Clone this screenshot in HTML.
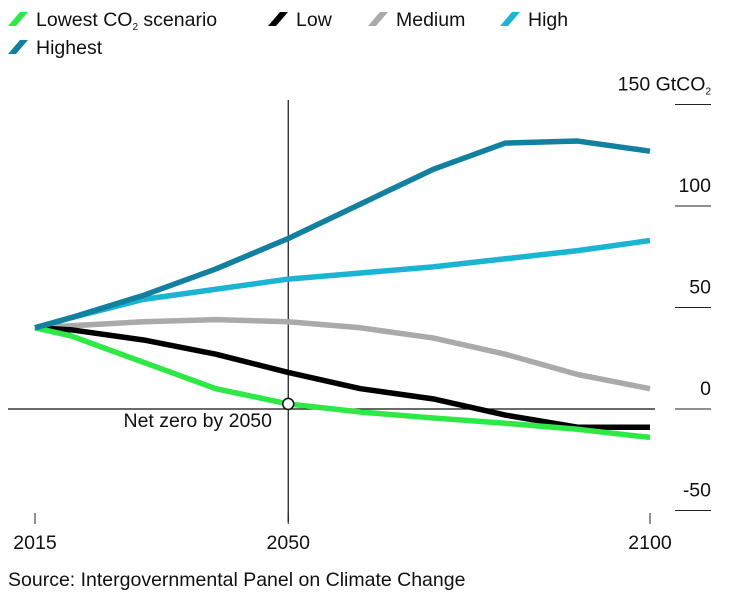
<!DOCTYPE html>
<html><head><meta charset="utf-8"><style>
body{margin:0;background:#fff;font-family:"Liberation Sans",Arial,sans-serif;}
svg{display:block}
text{font-family:"Liberation Sans",Arial,sans-serif;fill:#111}
</style></head><body>
<svg id="chart" width="729" height="595" viewBox="0 0 729 595">
<g id="legend"></g>
<g id="axes"></g>
<g id="series"></g>
<text x="8" y="586" font-size="19.5">Source: Intergovernmental Panel on Climate Change</text>
</svg>
<script>
const years=[2015,2020,2030,2040,2050,2060,2070,2080,2090,2100];
const highest=[40,45,56,69,84,101,118,131,132,127];
const high=[40,45,54,59,64,67,70,74,78,83];
const medium=[40,41,43,44,43,40,35,27,17,10];
const low=[40,39,34,27,18,10,5,-3,-9,-9];
const lowest=[40,36,23,10,2.5,-1.5,-4.4,-7,-10,-14];
const yTicks=[150,100,50,0,-50];
const xTicks=[2015,2050,2100];
const seriesNames=["Lowest CO2 scenario","Low","Medium","High","Highest"];
const colors=["#2ee846","#000000","#aaaaaa","#1bb5d3","#12809f"];

const NS="http://www.w3.org/2000/svg";
const X=y=>35+(y-2015)*(615/85);
const Y=v=>409-v*2.03;
function mk(tag,attrs,parent){const e=document.createElementNS(NS,tag);for(const k in attrs)e.setAttribute(k,attrs[k]);parent.appendChild(e);return e;}
const axes=document.getElementById('axes'),ser=document.getElementById('series'),leg=document.getElementById('legend');

yTicks.forEach(t=>{
  const l=mk('line',{x1:675,x2:711,y1:Y(t),y2:Y(t),stroke:'#222','stroke-width':1},axes);
  
  
  const tx=mk('text',{x:711,y:Y(t)-14,'text-anchor':'end','font-size':19.5},axes);
  tx.textContent=t===150?'150 GtCO':String(t);
  if(t===150){const s=mk('tspan',{'font-size':10,dy:4},tx);s.textContent='2';}
  
  
});
xTicks.forEach(t=>{
  const l=mk('line',{x1:X(t),x2:X(t),y1:513,y2:524,stroke:'#222','stroke-width':1},axes);
  
  
  const tx=mk('text',{x:X(t),y:549,'text-anchor':'middle','font-size':19.5},axes);
  tx.textContent=String(t);
  
  
});
const zl=mk('line',{x1:8,x2:655,y1:Y(0),y2:Y(0),stroke:'#111','stroke-width':1.2},axes);


const vl=mk('line',{x1:X(2050),x2:X(2050),y1:100,y2:522,stroke:'#111','stroke-width':1.2},axes);


const nz=mk('text',{x:272,y:427,'text-anchor':'end','font-size':19.5},axes);
nz.textContent='Net zero by 2050';



const data=[lowest,low,medium,high,highest];
const order=[2,1,0,3,4];
order.forEach(i=>{
  const p=mk('polyline',{points:years.map((y,j)=>X(y)+','+Y(data[i][j])).join(' '),fill:'none',stroke:colors[i],'stroke-width':5.5,'stroke-linejoin':'round'},ser);
  
  
});
const c=mk('circle',{cx:X(2050),cy:Y(2.5),r:5.5,fill:'#fff',stroke:'#111','stroke-width':1.5},ser);



const legPos=[[8,20],[268,20],[368,20],[500,20],[8,48]];
seriesNames.forEach((n,i)=>{
  const [x,y]=legPos[i];
  const g=mk('g',{},leg);
  
  
  mk('polygon',{points:`${x},${y+6} ${x+12},${y-8} ${x+20},${y-8} ${x+8},${y+6}`,fill:colors[i]},g);
  const t=mk('text',{x:x+28,y:y+6,'font-size':19.5},g);
  if(i===0){t.textContent='Lowest CO';const s=mk('tspan',{'font-size':10,dy:4},t);s.textContent='2';const s2=mk('tspan',{dy:-4},t);s2.textContent=' scenario';}
  else t.textContent=n;
});
</script>
</body></html>
